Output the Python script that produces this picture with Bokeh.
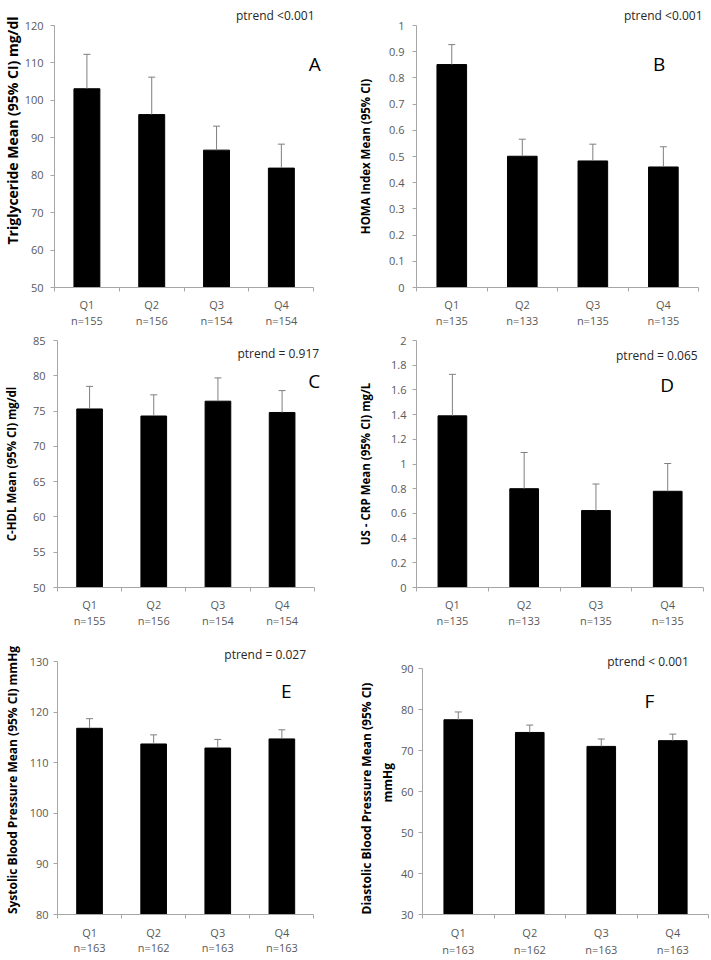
from bokeh.plotting import figure
from bokeh.models import (Range1d, FixedTicker, CustomJSTickFormatter, ColumnDataSource,
                          Whisker, TeeHead, Label, Title, LinearAxis)
from bokeh.layouts import column, row
from bokeh.embed import file_html
from bokeh.resources import INLINE

quartiles = ["Q1", "Q2", "Q3", "Q4"]

# Panel A - Triglyceride
tg_n = [155, 156, 154, 154]
tg_mean = [103.1, 96.2, 86.7, 81.9]
tg_upper = [112.3, 106.2, 93.1, 88.3]
tg_ticks = [50, 60, 70, 80, 90, 100, 110, 120]
tg_tick_labels = ["50", "60", "70", "80", "90", "100", "110", "120"]

# Panel B - HOMA index
homa_n = [135, 133, 135, 135]
homa_mean = [0.851, 0.501, 0.483, 0.460]
homa_upper = [0.927, 0.566, 0.547, 0.537]
homa_ticks = [0, 0.1, 0.2, 0.3, 0.4, 0.5, 0.6, 0.7, 0.8, 0.9, 1]
homa_tick_labels = ["0", "0.1", "0.2", "0.3", "0.4", "0.5", "0.6", "0.7", "0.8", "0.9", "1"]

# Panel C - C-HDL
hdl_n = [155, 156, 154, 154]
hdl_mean = [75.3, 74.3, 76.4, 74.8]
hdl_upper = [78.5, 77.3, 79.7, 77.9]
hdl_ticks = [50, 55, 60, 65, 70, 75, 80, 85]
hdl_tick_labels = ["50", "55", "60", "65", "70", "75", "80", "85"]

# Panel D - US-CRP
crp_n = [135, 133, 135, 135]
crp_mean = [1.39, 0.80, 0.623, 0.779]
crp_upper = [1.726, 1.093, 0.838, 1.004]
crp_ticks = [0, 0.2, 0.4, 0.6, 0.8, 1, 1.2, 1.4, 1.6, 1.8, 2]
crp_tick_labels = ["0", "0.2", "0.4", "0.6", "0.8", "1", "1.2", "1.4", "1.6", "1.8", "2"]

# Panel E - Systolic BP
sbp_n = [163, 162, 163, 163]
sbp_mean = [116.8, 113.7, 112.9, 114.7]
sbp_upper = [118.7, 115.5, 114.6, 116.5]
sbp_ticks = [80, 90, 100, 110, 120, 130]
sbp_tick_labels = ["80", "90", "100", "110", "120", "130"]

# Panel F - Diastolic BP
dbp_n = [163, 162, 163, 163]
dbp_mean = [77.5, 74.4, 71.0, 72.4]
dbp_upper = [79.4, 76.2, 72.8, 74.0]
dbp_ticks = [30, 40, 50, 60, 70, 80, 90]
dbp_tick_labels = ["30", "40", "50", "60", "70", "80", "90"]

FONT = "Open Sans"
AXIS_GRAY = "#a6a6a6"
LABEL_GRAY = "#595959"
PT_COLOR = "#262626"


def style_x_labels(ax, standoff):
    ax.major_label_standoff = standoff
    ax.major_label_text_font = FONT
    ax.major_label_text_font_size = "11px"
    ax.major_label_text_color = LABEL_GRAY


def make_panel(title_lines, ns, means, uppers, ticks, tick_labels, ptrend, letter, g):
    lo, hi = ticks[0], ticks[-1]
    W, H, fl, fr, ft, ytop, ybot = g["W"], g["H"], g["fl"], g["fr"], g["ft"], g["ytop"], g["ybot"]
    ppu = (ybot - ytop) / (hi - lo)
    y_end = lo + (ybot - ft) / ppu
    cat_px = (fr - fl) / len(quartiles)
    x_end = 0.5 + (W - fl) / cat_px

    def y_of(py):
        return lo + (ybot - py) / ppu

    def x_of(px):
        return 0.5 + (px - fl) / cat_px

    p = figure(width=W, height=H, output_backend="svg", toolbar_location=None,
               x_range=Range1d(0.5, x_end), y_range=Range1d(lo, y_end),
               min_border_left=fl, min_border_right=0,
               min_border_top=ft, min_border_bottom=H - ybot)
    p.outline_line_color = None
    p.xgrid.visible = False
    p.ygrid.visible = False
    p.background_fill_color = "white"
    p.border_fill_color = "white"

    xs = [i + 1 for i in range(len(quartiles))]
    src = ColumnDataSource(dict(x=xs, mean=means, upper=uppers))
    p.vbar(x="x", top="mean", bottom=lo, width=g["bw"], source=src,
           fill_color="black", line_color="black")
    w = Whisker(base="x", upper="upper", lower="mean", source=src, dimension="height",
                line_color="#7f7f7f", line_width=1,
                upper_head=TeeHead(size=7, line_color="#7f7f7f", line_width=1),
                lower_head=None, level="overlay")
    p.add_layout(w)

    # y axis
    ya = p.yaxis[0]
    ya.ticker = FixedTicker(ticks=ticks)
    ya.formatter = CustomJSTickFormatter(args=dict(labels=tick_labels), code="return labels[index];")
    ya.bounds = (lo, hi)
    ya.axis_line_color = AXIS_GRAY
    ya.major_tick_line_color = AXIS_GRAY
    ya.major_tick_out = 4
    ya.major_tick_in = 0
    ya.minor_tick_line_color = None
    ya.major_label_standoff = g["ys"]
    ya.major_label_text_font = FONT
    ya.major_label_text_font_size = "11px"
    ya.major_label_text_color = LABEL_GRAY
    if "side" in g:
        # axis title lines set as side titles (innermost first) so their place along the axis can be set
        for text, (off, stand) in zip(reversed(title_lines), g["side"]):
            p.add_layout(Title(text=text, align="left", offset=off, vertical_align="bottom",
                               standoff=stand, text_font=FONT, text_font_size=g["ts"],
                               text_font_style="bold", text_color="black"), "left")
    else:
        ya.axis_label = "\n".join(title_lines)
        ya.axis_label_text_font = FONT
        ya.axis_label_text_font_style = "bold"
        ya.axis_label_text_font_size = g["ts"]
        ya.axis_label_text_color = "black"
        ya.axis_label_standoff = g["ls"]

    # x axis: quartile names, with tick marks between the categories
    xa = p.xaxis[0]
    xa.ticker = FixedTicker(ticks=xs, minor_ticks=[x - 0.5 for x in xs] + [xs[-1] + 0.5])
    xa.formatter = CustomJSTickFormatter(args=dict(labels=quartiles), code="return labels[index];")
    xa.bounds = (0.5, len(quartiles) + 0.5)
    xa.axis_line_color = AXIS_GRAY
    xa.major_tick_out = 0
    xa.major_tick_in = 0
    xa.minor_tick_out = 4
    xa.minor_tick_in = 0
    xa.minor_tick_line_color = AXIS_GRAY
    style_x_labels(xa, g["xs"][0])

    # second row of category labels: group sizes
    na = LinearAxis(ticker=FixedTicker(ticks=xs),
                    formatter=CustomJSTickFormatter(args=dict(labels=[f"n={n}" for n in ns]),
                                                    code="return labels[index];"))
    na.axis_line_color = None
    na.major_tick_line_color = None
    na.minor_tick_line_color = None
    na.major_tick_out = 0
    na.major_tick_in = 0
    na.minor_tick_out = 0
    na.minor_tick_in = 0
    style_x_labels(na, g["xs"][1])
    p.add_layout(na, "below")

    px, py = g["pt"]
    if g.get("ptitle", False):
        stand = max(0.0, 2 * (ft - py - 8.15))
        p.add_layout(Title(text=ptrend, align="right", offset=W - px, vertical_align="bottom",
                           standoff=stand, text_font=FONT, text_font_size="12px",
                           text_font_style="normal", text_color=PT_COLOR), "above")
    else:
        p.add_layout(Label(x=x_of(px), y=y_of(py), text=ptrend, text_align="right",
                           text_baseline="middle", text_font=FONT, text_font_size="12px",
                           text_color=PT_COLOR))
    lx, ly = g["lt"]
    p.add_layout(Label(x=x_of(lx), y=y_of(ly), text=letter, text_align="center",
                       text_baseline="middle", text_font=FONT, text_font_size="19px",
                       text_color="black"))
    return p


pA = make_panel(["Triglyceride Mean (95% CI) mg/dl"], tg_n, tg_mean, tg_upper, tg_ticks,
                tg_tick_labels, "ptrend <0.001", "A",
                dict(W=355, H=330, fl=52, fr=313, ft=25, ytop=25, ybot=287, bw=0.4,
                     ys=7, ts="14px", side=[(43, 0)], ptitle=True, xs=(5, -2),
                     pt=(314, 15), lt=(314, 63)))
pB = make_panel(["HOMA Index Mean (95% CI)"], homa_n, homa_mean, homa_upper, homa_ticks,
                homa_tick_labels, "ptrend <0.001", "B",
                dict(W=356, H=330, fl=58, fr=343, ft=25, ytop=25, ybot=287, bw=0.42,
                     ys=8, ts="11.5px", ls=13, ptitle=True, xs=(5, -2),
                     pt=(347, 15), lt=(303, 63)))
pC = make_panel(["C-HDL Mean (95% CI) mg/dl"], hdl_n, hdl_mean, hdl_upper, hdl_ticks,
                hdl_tick_labels, "ptrend = 0.917", "C",
                dict(W=355, H=308, fl=52, fr=313, ft=10, ytop=10, ybot=257, bw=0.4,
                     ys=8, ts="11.5px", ls=11, xs=(5, -2), pt=(318, 23), lt=(313, 50)))
pD = make_panel(["US - CRP Mean (95% CI) mg/L"], crp_n, crp_mean, crp_upper, crp_ticks,
                crp_tick_labels, "ptrend = 0.065", "D",
                dict(W=356, H=308, fl=57, fr=348, ft=10, ytop=10, ybot=257, bw=0.4,
                     ys=6, ts="11.5px", ls=15, xs=(5, -2), pt=(342, 25), lt=(311, 54)))
pE = make_panel(["Systolic Blood Pressure Mean (95% CI) mmHg"], sbp_n, sbp_mean, sbp_upper,
                sbp_ticks, sbp_tick_labels, "ptrend = 0.027", "E",
                dict(W=355, H=322, fl=54, fr=313, ft=7, ytop=23, ybot=276, bw=0.4,
                     ys=5, ts="12px", ls=6, xs=(6, -3), pt=(305, 16), lt=(285, 52)))
pF = make_panel(["Diastolic Blood Pressure Mean (95% CI)", "mmHg"], dbp_n, dbp_mean, dbp_upper,
                dbp_ticks, dbp_tick_labels, "ptrend < 0.001", "F",
                dict(W=356, H=322, fl=63, fr=353, ft=7, ytop=30, ybot=276, bw=0.4,
                     ys=5, ts="12px", side=[(112, 4), (0, 0)], xs=(6, -1),
                     pt=(333, 23), lt=(293, 62)))

layout = column(row(pA, pB, spacing=0), row(pC, pD, spacing=0), row(pE, pF, spacing=0), spacing=0)

open("out.html", "w").write(file_html(layout, INLINE))
